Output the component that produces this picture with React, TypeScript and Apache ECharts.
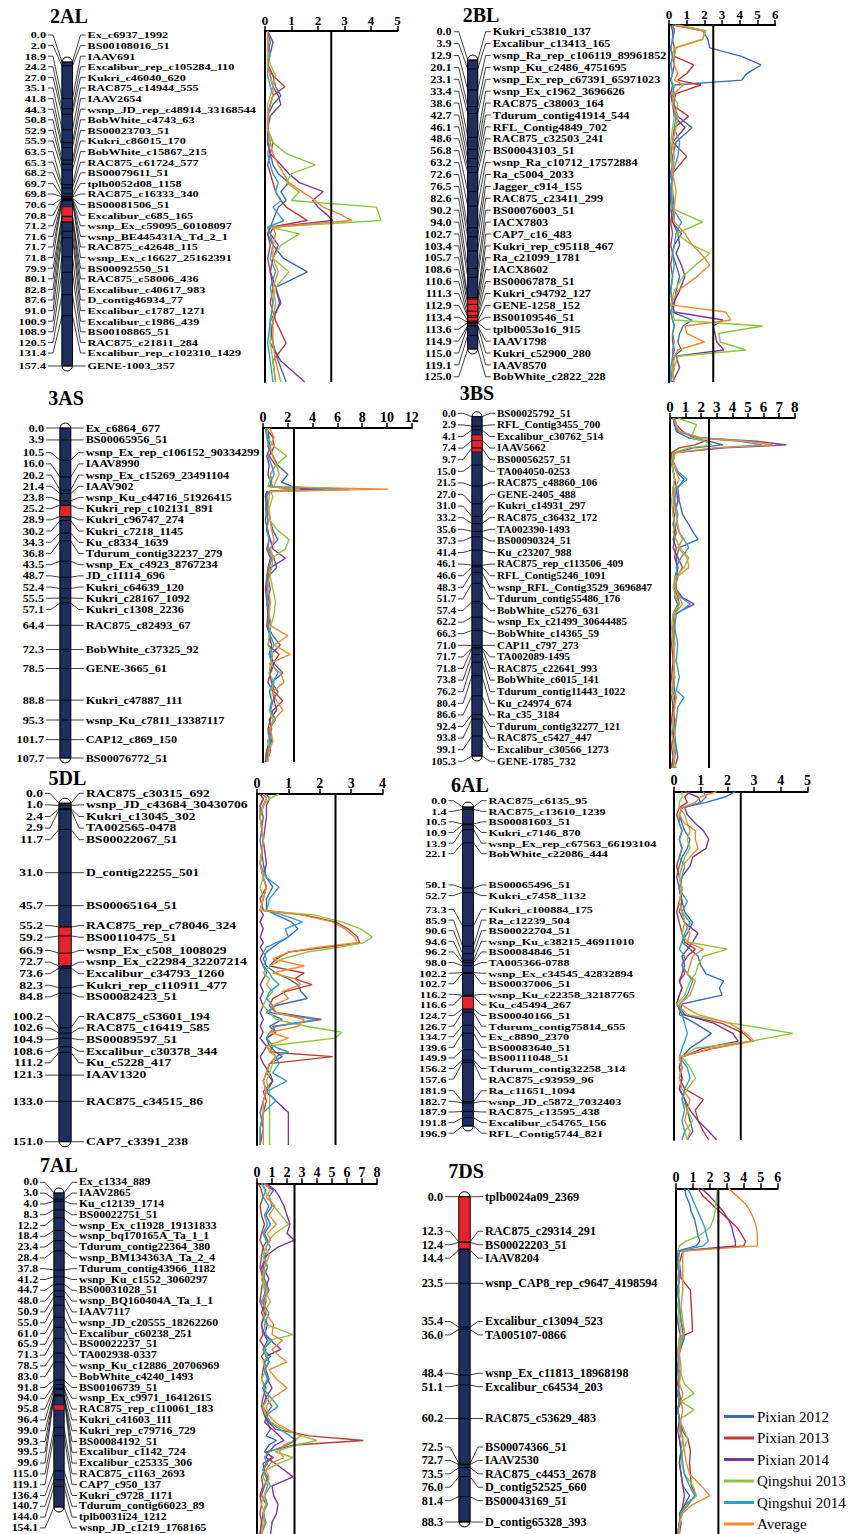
import React, { useEffect, useRef } from "react";
import * as echarts from "echarts";

// ---------- shared ----------
const SERIES_NAMES = ["Pixian 2012", "Pixian 2013", "Pixian 2014", "Qingshui 2013", "Qingshui 2014", "Average"];
const SERIES_COLORS = ["#3b6db4", "#b83b3d", "#7a3a9a", "#8dc63f", "#2f9fc8", "#ef8a2d"];
const LOD_THRESHOLD = 2.5;

// ---------- 2AL ----------
const names2AL = ["Ex_c6937_1992","BS00108016_51","IAAV691","Excalibur_rep_c105284_110","Kukri_c46040_620","RAC875_c14944_555","IAAV2654","wsnp_JD_rep_c48914_33168544","BobWhite_c4743_63","BS00023703_51","Kukri_c86015_170","BobWhite_c15867_215","RAC875_c61724_577","BS00079611_51","tplb0052d08_1158","RAC875_c16333_340","BS00081506_51","Excalibur_c685_165","wsnp_Ex_c59095_60108097","wsnp_BE445431A_Td_2_1","RAC875_c42648_115","wsnp_Ex_c16627_25162391","BS00092550_51","RAC875_c58006_436","Excalibur_c40617_983","D_contig46934_77","Excalibur_c1787_1271","Excalibur_c1986_439","BS00108865_51","RAC875_c21811_284","Excalibur_rep_c102310_1429","GENE-1003_357"];
const cm2AL = [0.0,2.0,18.9,24.2,27.0,35.1,41.8,44.3,50.8,52.9,55.9,63.5,65.3,68.2,69.7,69.8,70.6,70.8,71.2,71.6,71.7,71.8,79.9,80.1,82.8,87.6,91.0,100.9,108.9,120.5,131.4,157.4];
const qtl2AL = [75, 82.7];
const lodTicks2AL = [0, 1, 2, 3, 4, 5];
const lodPos2AL = [0,5,10,15,20,25,29,33,38,44,50,55,60,64,68,72,76,79,82,85,88,91,96,102,108,115,122,130,140,148,157.4];
const lod2AL = [
  [0.1,0.2,0.1,0.1,0.3,0.4,0.6,0.3,0.1,0.1,0.1,0.2,0.3,0.5,0.9,0.6,0.8,0.5,0.4,0.3,0.2,0.1,0.3,0.7,1.6,0.4,0.6,0.2,0.3,0.5,0.8],
  [0.1,0.1,0.2,0.1,0.3,0.75,0.3,0.2,0.1,0.1,0.3,0.2,0.1,0.2,0.3,0.4,0.6,0.8,1.2,1.6,0.2,0.1,0.2,0.1,0.2,0.3,0.2,0.4,0.8,0.3,0.4],
  [0.1,0.3,0.2,0.1,0.2,0.3,0.5,0.6,0.2,0.1,0.1,0.2,0.6,0.9,1.3,2.2,1.8,2.0,2.3,2.55,0.3,0.2,0.5,0.3,0.2,0.4,0.55,0.3,0.2,0.6,1.5],
  [0.1,0.1,0.1,0.2,0.4,0.3,0.2,0.1,0.1,0.1,0.3,0.8,1.9,1.0,0.8,1.3,1.0,4.2,4.3,4.37,0.2,1.3,0.6,0.3,0.9,0.4,0.3,0.2,0.2,0.3,0.4],
  [0.1,0.1,0.2,0.1,0.1,0.2,0.3,0.2,0.1,0.1,0.2,0.1,0.2,0.3,0.5,0.4,0.6,0.3,0.5,0.7,0.1,0.2,0.3,0.2,0.4,0.2,0.3,0.2,0.1,0.2,0.3],
  [0.1,0.1,0.1,0.1,0.2,0.3,0.3,0.2,0.1,0.1,0.2,0.3,0.5,0.7,0.9,1.4,1.9,2.2,2.8,3.28,0.3,0.4,0.3,0.3,0.5,0.3,0.4,0.3,0.3,0.4,0.6],
];

// ---------- 2BL ----------
const names2BL = ["Kukri_c53810_137","Excalibur_c13413_165","wsnp_Ra_rep_c106119_89961852","wsnp_Ku_c2486_4751695","wsnp_Ex_rep_c67391_65971023","wsnp_Ex_c1962_3696626","RAC875_c38003_164","Tdurum_contig41914_544","RFL_Contig4849_702","RAC875_c32503_241","BS00043103_51","wsnp_Ra_c10712_17572884","Ra_c5004_2033","Jagger_c914_155","RAC875_c23411_299","BS00076003_51","IACX7803","CAP7_c16_483","Kukri_rep_c95118_467","Ra_c21099_1781","IACX8602","BS00067878_51","Kukri_c94792_127","GENE-1258_152","BS00109546_51","tplb0053o16_915","IAAV1798","Kukri_c52900_280","IAAV8570","BobWhite_c2822_228"];
const cm2BL = [0.0,3.9,12.9,20.1,23.1,33.4,38.6,42.7,46.1,48.6,56.8,63.2,72.6,76.5,82.6,90.2,94.0,102.7,103.4,105.7,108.6,110.6,111.3,112.9,113.4,113.6,114.9,115.0,119.1,125.0];
const qtl2BL = [103, 113.8];
const lodTicks2BL = [0, 1, 2, 3, 4, 5, 6];
const lodPos2BL = [0,2,5,8,11,14,17,19.3,21,24,28,32,36,41,46,52,58,64,69,73,77,80,84,88,93,98,100.5,103.3,105.4,108,111,113.8,116,120,125];
const lod2BL = [
  [0.2,1.9,2.2,2.3,4.1,5.2,4.4,4.1,0.3,0.2,0.3,0.5,1.3,0.4,0.2,0.1,0.2,0.3,0.2,0.7,0.3,0.2,0.4,0.6,0.4,0.3,0.2,1.3,0.8,0.6,0.5,0.7,0.3,0.2,0.1],
  [0.1,0.2,0.2,0.3,0.3,1.4,1.0,0.5,1.8,0.4,0.2,1.1,0.3,0.2,1.0,0.2,0.1,0.2,0.1,0.2,0.1,0.2,0.1,0.2,0.1,0.2,0.1,0.2,0.3,0.2,0.2,0.3,0.2,0.3,0.1],
  [0.2,0.3,0.2,0.1,0.2,0.3,0.2,0.1,0.2,0.1,0.2,0.3,0.9,0.2,0.1,0.2,0.1,0.1,0.2,0.5,0.6,0.4,0.7,0.9,0.6,0.2,0.3,3.05,2.5,2.6,2.7,3.1,0.4,0.6,0.2],
  [0.5,2.1,1.9,0.3,0.2,0.1,0.2,0.1,0.3,0.2,0.5,0.3,0.2,0.1,0.1,0.2,0.2,0.1,1.9,0.4,1.3,2.3,1.5,0.8,0.3,0.1,0.2,0.3,5.3,2.8,2.9,4.35,0.5,0.3,0.1],
  [0.2,0.3,0.2,0.1,0.2,0.1,0.2,0.1,0.2,0.3,0.2,0.4,0.3,0.6,0.5,0.2,0.1,0.2,0.7,0.4,0.3,0.2,0.3,0.2,0.1,0.2,0.1,0.2,0.3,0.2,0.3,0.2,0.2,0.1,0.1],
  [0.3,2.0,1.9,0.4,0.3,0.3,0.5,0.3,0.8,0.3,0.2,0.5,0.4,0.2,0.3,0.2,0.4,0.3,0.3,0.9,1.3,1.8,2.3,1.6,0.5,0.1,3.2,3.5,0.9,1.0,2.0,0.5,0.3,0.2,0.3],
];

// ---------- 3AS ----------
const names3AS = ["Ex_c6864_677","BS00065956_51","wsnp_Ex_rep_c106152_90334299","IAAV8990","wsnp_Ex_c15269_23491104","IAAV902","wsnp_Ku_c44716_51926415","Kukri_rep_c102131_891","Kukri_c96747_274","Kukri_c7218_1145","Ku_c8334_1639","Tdurum_contig32237_279","wsnp_Ex_c4923_8767234","JD_c11114_696","Kukri_c64639_120","Kukri_c28167_1092","Kukri_c1308_2236","RAC875_c82493_67","BobWhite_c37325_92","GENE-3665_61","Kukri_c47887_111","wsnp_Ku_c7811_13387117","CAP12_c869_150","BS00076772_51"];
const cm3AS = [0.0,3.9,10.5,16.0,20.2,21.4,23.8,25.2,28.9,30.2,34.3,36.8,43.5,48.7,52.4,55.5,57.1,64.4,72.3,78.5,88.8,95.3,101.7,107.7];
const qtl3AS = [25.4, 28.9];
const lodTicks3AS = [0, 2, 4, 6, 8, 10, 12];
const lodPos3AS = [0,3,6,9,12,15,17.5,18.9,19.7,20.5,22,26,30,33,36,39,42,45,48,52,56,60,64,67,70,73,76,79,82,85,88,91,94,97,101,104,107.7];
const lod3AS = [
  [0.3,0.5,0.4,0.8,1.2,2.0,1.5,2.4,5.0,0.5,0.3,0.4,0.6,0.8,1.2,0.5,0.9,1.1,0.4,0.6,0.3,0.5,0.4,0.8,1.4,0.6,0.9,1.6,0.7,1.2,0.8,0.6,1.0,0.5,0.7,0.3,0.2],
  [0.2,0.8,0.9,0.5,1.0,0.6,0.7,0.5,2.5,0.3,0.2,0.3,0.2,0.4,0.5,0.3,0.6,0.4,0.3,0.2,0.3,0.4,0.3,0.6,0.4,1.3,0.8,0.5,0.7,0.9,1.6,0.8,0.6,0.4,0.5,0.3,0.2],
  [0.3,0.4,0.6,0.3,0.5,0.4,0.6,0.8,4.0,0.3,0.2,0.3,0.4,0.3,0.6,0.8,1.8,0.6,0.4,0.3,0.5,0.4,0.6,0.5,0.7,0.5,0.9,0.6,0.4,0.8,0.9,1.1,0.5,0.7,0.4,0.6,0.3],
  [0.4,0.3,0.9,1.9,1.0,0.6,0.5,0.4,3.0,0.6,0.8,0.5,0.6,1.2,2.1,1.8,0.7,0.5,0.6,0.8,1.0,0.9,0.6,0.5,0.4,0.8,0.6,0.5,0.9,0.6,0.7,0.5,0.8,0.6,0.4,0.5,0.3],
  [0.2,0.3,0.5,0.4,0.7,0.9,0.6,0.8,7.0,0.4,0.3,0.2,0.4,0.3,0.5,0.4,0.7,0.5,0.3,0.4,0.3,0.5,0.4,0.6,0.9,0.5,0.7,1.2,0.8,0.5,0.7,0.6,1.0,0.5,0.6,0.4,0.3],
  [0.5,0.9,0.6,0.8,1.1,1.3,1.0,0.9,10.1,0.6,0.5,0.4,0.6,0.7,0.9,0.6,0.8,0.7,0.5,0.4,0.6,0.5,0.7,2.0,0.9,2.2,0.5,1.4,1.7,0.8,1.1,1.6,0.9,0.6,0.8,0.5,0.4],
];

// ---------- 3BS ----------
const names3BS = ["BS00025792_51","RFL_Contig3455_700","Excalibur_c30762_514","IAAV5662","BS00056257_51","TA004050-0253","RAC875_c48860_106","GENE-2405_488","Kukri_c14931_297","RAC875_c36432_172","TA002390-1493","BS00090324_51","Ku_c23207_988","RAC875_rep_c113506_409","RFL_Contig5246_1091","wsnp_RFL_Contig3529_3696847","Tdurum_contig55486_176","BobWhite_c5276_631","wsnp_Ex_c21499_30644485","BobWhite_c14365_59","CAP11_c797_273","TA002089-1495","RAC875_c22641_993","BobWhite_c6015_141","Tdurum_contig11443_1022","Ku_c24974_674","Ra_c35_3184","Tdurum_contig32277_121","RAC875_c5427_447","Excalibur_c30566_1273","GENE-1785_732"];
const cm3BS = [0.0,2.9,4.1,7.4,9.7,15.0,21.5,27.0,31.0,33.2,35.6,37.3,41.4,46.1,46.6,48.3,51.7,57.4,62.2,66.3,71.0,71.7,71.8,73.8,76.2,80.4,86.6,92.4,93.8,99.1,105.3];
const qtl3BS = [5.7, 10.9];
const lodTicks3BS = [0, 1, 2, 3, 4, 5, 6, 7, 8];
const lodPos3BS = [0,2,4,6,7,8.1,9,10.5,13,16,18.5,21,25,29,32,34.5,36.5,39,42,45,48,51,54,56,59,63,68,73,78,82,84,87,91,95,99,102,105.3];
const lod3BS = [
  [0.2,0.3,0.4,1.2,2.5,3.4,1.5,0.3,0.2,0.4,0.9,0.5,0.6,0.8,1.2,1.5,1.8,0.6,0.4,0.5,0.3,0.4,0.3,0.5,0.2,0.3,0.2,0.3,0.2,0.3,0.4,0.2,0.3,0.2,0.3,0.2,0.1],
  [0.3,0.4,0.8,1.5,2.2,1.6,0.6,0.1,0.1,0.2,0.3,0.2,0.3,0.2,0.3,0.4,0.3,0.2,0.5,0.8,0.4,0.3,0.5,0.6,0.3,0.2,0.1,0.2,0.1,0.2,0.1,0.2,0.1,0.2,0.1,0.2,0.1],
  [0.2,0.3,0.5,2.0,5.5,7.47,3.5,0.2,0.1,0.2,0.3,0.4,0.5,0.3,0.2,0.3,0.2,0.4,0.3,0.5,0.4,0.3,0.8,1.55,0.3,0.2,0.3,0.2,0.3,0.2,0.3,0.2,0.3,0.2,0.4,0.5,0.3],
  [0.5,1.7,1.5,1.4,2.2,2.7,1.2,0.2,0.1,0.2,0.3,0.2,0.1,0.2,0.3,0.2,0.4,0.6,1.2,0.9,0.3,0.2,0.4,0.6,0.2,0.1,0.2,0.3,0.2,0.1,0.2,0.3,0.2,0.1,0.3,0.2,0.4],
  [0.2,0.3,0.5,1.8,4.5,5.9,3.0,0.3,0.2,0.5,1.1,0.4,0.3,0.5,0.4,0.6,0.9,1.2,0.7,0.4,0.5,0.3,0.7,1.3,0.4,0.3,0.5,0.4,0.6,0.4,0.9,0.5,0.4,0.3,0.4,0.3,0.2],
  [0.3,0.4,0.6,2.0,5.0,6.6,2.8,0.3,0.2,0.4,0.6,0.3,0.2,0.4,0.5,0.6,0.8,0.5,1.1,1.2,0.4,0.3,0.6,0.8,0.3,0.2,0.3,0.2,0.3,0.2,0.4,0.3,0.2,0.3,0.2,0.3,0.2],
];

// ---------- 5DL ----------
const names5DL = ["RAC875_c30315_692","wsnp_JD_c43684_30430706","Kukri_c13045_302","TA002565-0478","BS00022067_51","D_contig22255_501","BS00065164_51","RAC875_rep_c78046_324","BS00110475_51","wsnp_Ex_c508_1008029","wsnp_Ex_c22984_32207214","Excalibur_c34793_1260","Kukri_rep_c110911_477","BS00082423_51","RAC875_c53601_194","RAC875_c16419_585","BS00089597_51","Excalibur_c30378_344","Ku_c5228_417","IAAV1320","RAC875_c34515_86","CAP7_c3391_238"];
const cm5DL = [0.0,1.0,2.4,2.9,11.7,31.0,45.7,55.2,59.2,66.9,72.7,73.6,82.3,84.8,100.2,102.6,104.9,108.6,111.2,121.3,133.0,151.0];
const qtl5DL = [55.2, 72.4];
const lodTicks5DL = [0, 1, 2, 3, 4];
const lodPos5DL = [0,2,5,10,20,30,36,40,45,50,52,55,58,61.5,64,66,68,71,74,77,79.5,82,85,88,91,94,97,100,102.5,105,108.5,111,113,116,120,123.5,128,132,137,144,151];
const lod5DL = [
  [0.1,0.2,0.1,0.2,0.1,0.2,0.3,0.5,0.3,0.3,0.6,1.1,1.3,1.0,0.7,0.5,0.3,0.2,0.3,0.6,1.0,1.3,1.4,1.6,0.6,0.3,0.8,0.4,0.6,0.3,0.4,0.6,0.8,0.4,0.3,0.2,0.3,0.2,0.1,0.2,0.1],
  [0.1,0.2,0.1,0.1,0.2,0.1,0.2,0.3,0.1,0.2,1.5,2.5,2.9,3.2,3.27,2.2,1.0,0.6,0.4,1.5,1.2,1.75,0.9,0.5,0.4,0.6,2.05,0.5,0.6,0.3,0.5,0.4,2.41,0.4,0.3,0.5,0.2,0.3,0.2,0.1,0.1],
  [0.3,0.4,0.3,0.3,0.2,0.3,0.2,0.3,0.2,0.1,0.2,0.1,0.2,0.1,0.2,0.1,0.2,0.1,0.2,0.3,0.2,0.1,0.2,0.1,0.2,0.1,0.2,0.1,0.2,0.1,0.3,0.2,0.1,0.2,0.4,0.5,0.3,0.6,1.0,1.0,1.0],
  [0.7,0.4,0.2,0.1,0.2,0.1,0.2,0.1,0.2,0.1,1.8,2.7,3.3,3.67,3.4,2.6,1.6,0.8,0.4,0.2,0.4,0.3,0.5,0.3,0.2,0.4,0.6,1.6,2.7,2.5,0.3,0.4,0.6,0.5,0.4,0.3,0.4,0.4,0.4,0.4,0.4],
  [0.2,0.3,0.2,0.1,0.2,0.1,0.3,0.7,0.4,0.3,0.8,1.45,0.9,1.0,0.6,0.3,0.2,0.3,0.2,0.4,0.5,0.7,0.4,0.3,0.5,0.4,1.9,0.6,0.4,0.3,0.5,1.0,0.6,0.7,0.5,0.95,0.3,0.6,0.2,0.1,0.1],
  [0.2,0.3,0.2,0.1,0.2,0.1,0.2,0.3,0.2,0.1,1.4,2.4,2.8,3.1,3.2,1.9,1.0,0.5,1.5,0.5,1.2,1.4,0.8,1.0,0.5,0.6,1.5,1.3,0.4,1.0,0.3,0.5,0.6,0.4,0.3,0.2,0.3,0.2,0.2,0.2,0.2],
];

// ---------- 6AL ----------
const names6AL = ["RAC875_c6135_95","RAC875_c13610_1239","BS00081603_51","Kukri_c7146_870","wsnp_Ex_rep_c67563_66193104","BobWhite_c22086_444","BS00065496_51","Kukri_c7458_1132","Kukri_c100884_175","Ra_c12239_504","BS00022704_51","wsnp_Ku_c38215_46911010","BS00084846_51","TA005366-0788","wsnp_Ex_c34545_42832894","BS00037006_51","wsnp_Ku_c22358_32187765","Ku_c45494_267","BS00040166_51","Tdurum_contig75814_655","Ex_c8890_2370","BS00083640_51","BS00111048_51","Tdurum_contig32258_314","RAC875_c93959_96","Ra_c11651_1094","wsnp_JD_c5872_7032403","RAC875_c13595_438","Excalibur_c54765_156","RFL_Contig5744_821"];
const cm6AL = [0.0,1.4,10.5,10.9,13.9,22.1,50.1,52.7,73.3,85.9,90.6,94.6,96.2,98.0,102.2,102.7,116.2,116.6,124.7,126.7,134.7,139.6,149.9,156.2,157.6,181.9,182.7,187.9,191.8,196.9];
const qtl6AL = [117, 125];
const lodTicks6AL = [0, 1, 2, 3, 4, 5];
const lodPos6AL = [0,3,6,9,13,18,22,27,32,37,42,48,55,62,68,74,80,85,89,93,98,103,107,111,115,120,126,131,136.6,141,145,150,156,162,168,174,180,186,192,196.9];
const lod6AL = [
  [2.3,1.9,1.2,0.3,0.2,0.3,0.4,0.6,0.5,0.3,0.2,0.1,0.2,0.3,0.4,0.7,0.5,0.3,0.6,0.9,1.0,1.2,1.85,1.7,1.8,0.3,0.2,0.8,1.4,1.0,0.6,0.3,0.2,0.3,0.2,0.4,0.5,0.6,0.7,0.5],
  [0.6,0.4,0.5,0.2,0.1,0.2,0.3,0.2,0.3,0.2,0.1,0.2,0.3,0.2,0.1,0.2,0.3,0.4,0.8,0.5,0.3,0.4,0.2,0.3,0.2,0.1,0.3,1.8,2.6,2.9,1.5,0.2,0.3,0.2,0.4,1.1,0.8,0.9,1.1,1.3],
  [0.4,0.9,1.0,0.4,0.5,0.8,1.1,1.3,1.2,0.7,0.6,0.3,0.2,0.3,0.2,0.4,0.9,0.7,0.5,0.3,0.4,0.3,0.2,0.3,0.2,0.1,0.4,1.5,2.2,2.4,1.1,0.3,0.2,0.3,0.2,0.4,0.6,0.9,1.3,1.6],
  [0.3,0.3,0.2,0.2,0.4,0.5,0.6,0.5,0.6,0.4,0.3,0.2,0.3,0.2,0.3,0.4,0.3,0.5,2.0,1.1,0.9,0.8,0.6,0.5,0.4,0.1,0.5,2.2,4.45,2.9,0.8,0.3,0.6,0.8,0.5,0.3,0.5,0.7,0.4,0.5],
  [1.1,1.2,1.0,0.3,0.2,0.2,0.3,0.2,0.3,0.2,0.4,0.3,0.2,0.5,0.3,0.6,0.4,0.3,0.2,0.4,0.3,0.5,0.7,0.6,0.5,0.2,0.3,0.4,0.5,0.4,0.3,0.2,0.5,0.6,0.4,0.3,0.4,0.3,0.4,0.3],
  [1.6,1.0,0.8,0.3,0.2,0.4,0.8,0.8,0.9,0.6,0.3,0.2,0.3,0.2,0.3,0.4,0.6,0.5,1.1,0.7,0.6,0.5,0.8,0.7,0.6,0.2,0.9,2.1,2.7,3.0,1.4,0.2,0.3,0.2,0.3,0.6,0.5,0.4,0.6,0.5],
];

// ---------- 7AL ----------
const names7AL = ["Ex_c1334_889","IAAV2865","Ku_c12139_1714","BS00022751_51","wsnp_Ex_c11928_19131833","wsnp_bq170165A_Ta_1_1","Tdurum_contig22364_380","wsnp_BM134363A_Ta_2_4","Tdurum_contig43966_1182","wsnp_Ku_c1552_3060297","BS00031028_51","wsnp_BQ160404A_Ta_1_1","IAAV7117","wsnp_JD_c20555_18262260","Excalibur_c60238_251","BS00022237_51","TA002938-0337","wsnp_Ku_c12886_20706969","BobWhite_c4240_1493","BS00106739_51","wsnp_Ex_c9971_16412615","RAC875_rep_c110061_183","Kukri_c41603_111","Kukri_rep_c79716_729","BS00084192_51","Excalibur_c1142_724","Excalibur_c25335_306","RAC875_c1163_2693","CAP7_c950_137","Kukri_c9728_1171","Tdurum_contig66023_89","tplb0031i24_1212","wsnp_JD_c1219_1768165"];
const cm7AL = [0.0,3.0,4.0,8.3,12.2,18.4,23.4,28.4,37.8,41.2,44.7,48.0,50.9,55.0,61.0,65.9,71.3,78.5,83.0,91.8,94.0,95.8,96.4,99.0,99.3,99.5,99.6,115.0,119.1,136.4,140.7,144.0,154.1];
const qtl7AL = [104, 106.6];
const lodTicks7AL = [0, 1, 2, 3, 4, 5, 6, 7, 8];
const lodPos7AL = [0,3,6,10,14,18,22,25,28,32,37,42,47,52,57,62,66.5,69,73,76,78.5,82,86,90,94,98,102,105,108,111,113,115,118,120.5,123,126,129,133,137,141,145,149,154.1];
const lod7AL = [
  [0.4,1.1,0.8,1.0,0.6,0.9,0.5,0.7,0.4,0.6,0.3,0.5,0.8,0.4,0.6,0.3,0.5,0.7,0.4,0.9,0.5,0.6,0.8,0.4,0.6,1.0,0.5,0.7,0.9,0.6,1.3,0.8,0.5,1.1,0.6,0.4,0.7,0.5,0.3,0.6,0.4,0.3,0.2],
  [0.1,0.3,0.4,0.2,0.3,0.5,0.3,0.2,0.4,0.3,0.2,0.4,0.3,0.2,0.5,0.3,0.4,0.2,0.6,0.3,0.5,0.4,0.3,0.6,0.4,0.3,0.5,0.8,1.2,3.5,7.1,2.5,0.6,1.0,0.4,0.5,0.3,0.4,0.2,0.3,0.2,0.3,0.2],
  [0.6,1.2,1.5,1.8,2.0,2.2,2.0,2.5,1.4,0.6,0.4,0.8,0.5,0.6,0.3,0.7,0.5,0.9,1.6,0.6,0.8,0.5,0.7,1.0,0.6,0.4,0.7,0.5,1.0,1.5,1.8,1.2,0.8,0.6,1.2,1.8,2.4,1.0,1.1,1.4,1.3,1.0,0.9],
  [0.3,0.5,0.8,1.1,1.6,2.1,1.2,0.8,0.6,0.4,0.7,0.3,0.5,0.9,0.4,0.6,2.4,0.8,0.5,0.7,0.4,0.6,0.3,0.5,0.8,0.4,0.6,0.9,1.8,3.0,4.0,2.6,1.2,2.4,1.5,0.6,0.4,0.7,0.5,0.3,0.5,0.4,0.3],
  [0.3,0.6,0.4,0.8,0.5,0.7,0.4,0.6,0.9,0.5,0.7,0.4,0.6,0.3,0.8,0.5,0.6,1.0,0.4,0.6,0.8,0.5,0.7,0.4,0.9,1.4,0.6,0.9,1.5,2.2,2.6,2.0,0.8,0.5,0.7,0.4,0.6,0.9,0.5,0.7,0.4,0.6,0.3],
  [0.5,0.9,0.6,1.2,0.8,1.3,0.7,0.9,0.6,0.8,0.5,0.4,0.7,0.5,0.6,1.1,1.0,1.7,1.0,1.5,2.0,0.8,1.3,2.0,1.1,0.6,0.8,1.2,2.0,2.9,2.5,1.8,1.5,1.8,0.9,0.6,0.8,0.7,0.5,0.6,0.4,0.5,0.3],
];

// ---------- 7DS ----------
const names7DS = ["tplb0024a09_2369","RAC875_c29314_291","BS00022203_51","IAAV8204","wsnp_CAP8_rep_c9647_4198594","Excalibur_c13094_523","TA005107-0866","wsnp_Ex_c11813_18968198","Excalibur_c64534_203","RAC875_c53629_483","BS00074366_51","IAAV2530","RAC875_c4453_2678","D_contig52525_660","BS00043169_51","D_contig65328_393"];
const cm7DS = [0.0,12.3,12.4,14.4,23.5,35.4,36.0,48.4,51.1,60.2,72.5,72.7,73.5,76.0,81.4,88.3];
const qtl7DS = [0, 14.1];
const lodTicks7DS = [0, 1, 2, 3, 4, 5, 6];
const lodPos7DS = [0,2,4,6,8,10,12,13.5,14.7,16,19,23,26,30,34,36.6,38,42,46,50,52.4,54.5,56.6,59,62,64,67,70,73,76,78.5,81,83,85.5,88.3];
const lod7DS = [
  [0.5,0.6,0.8,0.9,1.1,1.2,1.3,1.4,1.2,0.1,0.1,0.2,0.1,0.2,0.3,0.4,0.5,0.2,0.1,0.2,0.1,0.2,0.1,0.2,0.3,0.2,0.3,0.2,0.3,0.4,0.8,0.5,0.2,0.3,0.2],
  [1.3,1.6,2.1,2.6,3.1,3.6,3.9,4.1,4.0,0.4,0.2,0.3,0.85,0.9,0.95,0.97,0.2,0.1,0.2,0.1,0.2,0.3,0.1,0.2,0.4,0.7,0.85,0.8,0.85,0.9,1.2,0.5,0.3,0.2,0.1],
  [1.5,2.0,2.4,2.8,3.1,3.3,3.4,3.5,3.5,0.2,0.1,0.2,0.1,0.2,0.1,0.2,0.3,0.2,0.1,0.2,0.1,0.2,0.1,0.2,0.1,0.2,0.3,0.2,0.3,0.4,0.5,0.4,0.3,0.2,0.1],
  [2.45,2.4,2.35,2.3,2.2,2.0,1.4,0.6,0.2,0.1,0.2,0.1,0.2,0.1,0.2,0.3,0.2,0.1,0.2,0.5,1.07,0.3,1.07,0.2,0.5,0.7,0.4,0.3,0.5,1.0,1.2,0.6,0.3,0.2,0.1],
  [0.7,0.9,1.1,1.3,1.5,1.7,1.8,1.9,1.6,0.2,0.1,0.2,0.1,0.2,0.3,0.5,0.4,0.2,0.1,0.2,0.1,0.2,0.1,0.2,0.3,0.4,0.3,0.4,0.5,0.8,1.1,0.7,0.3,0.2,0.1],
  [3.1,3.6,4.1,4.4,4.6,4.75,4.8,4.8,4.8,0.4,0.4,0.4,0.4,0.3,0.4,0.5,0.3,0.2,0.3,0.2,0.4,0.3,0.4,0.3,0.2,0.4,0.5,0.6,0.8,1.5,2.0,0.9,0.4,0.2,0.2],
];

// ---------- panel assembly (data) ----------
const PANELS = [
  { key: "2AL", names: names2AL, cm: cm2AL, qtl: qtl2AL, ticks: lodTicks2AL, lodPos: lodPos2AL, lod: lod2AL },
  { key: "2BL", names: names2BL, cm: cm2BL, qtl: qtl2BL, ticks: lodTicks2BL, lodPos: lodPos2BL, lod: lod2BL },
  { key: "3AS", names: names3AS, cm: cm3AS, qtl: qtl3AS, ticks: lodTicks3AS, lodPos: lodPos3AS, lod: lod3AS },
  { key: "3BS", names: names3BS, cm: cm3BS, qtl: qtl3BS, ticks: lodTicks3BS, lodPos: lodPos3BS, lod: lod3BS },
  { key: "5DL", names: names5DL, cm: cm5DL, qtl: qtl5DL, ticks: lodTicks5DL, lodPos: lodPos5DL, lod: lod5DL },
  { key: "6AL", names: names6AL, cm: cm6AL, qtl: qtl6AL, ticks: lodTicks6AL, lodPos: lodPos6AL, lod: lod6AL },
  { key: "7AL", names: names7AL, cm: cm7AL, qtl: qtl7AL, ticks: lodTicks7AL, lodPos: lodPos7AL, lod: lod7AL },
  { key: "7DS", names: names7DS, cm: cm7DS, qtl: qtl7DS, ticks: lodTicks7DS, lodPos: lodPos7DS, lod: lod7DS },
];

// ---------- layout (pixels / styles only) ----------
// title [cx, cy]; bar [left, width, top, bottom]; lab [minY, maxY, spacing]; plot [left, top, width, height]
// textW: width-equivalent font size of marker labels; tickFs: LOD axis label size
const LAYOUT: any = {
  "2AL": { title: [69, 16], bar: [62, 10.5, 62, 366], lab: [35, 368, 10.6], plot: [265, 31, 132.5, 351], textW: 12.2, tickFs: 13 },
  "2BL": { title: [481, 15], bar: [467.7, 10, 60, 349], lab: [31.7, 376.7, 11.9], plot: [669, 25, 106.2, 357], textW: 12.2, tickFs: 13 },
  "3AS": { title: [66, 398], bar: [60, 10.7, 428, 758], lab: [427, 761, 11.2], plot: [263, 428, 148.8, 334], textW: 12.2, tickFs: 14 },
  "3BS": { title: [477, 393], bar: [472, 10, 416.7, 756], lab: [413.3, 761.7, 11.6], plot: [670, 418, 124.8, 350], textW: 11.0, tickFs: 15 },
  "5DL": { title: [67.5, 778], bar: [59, 12, 803.2, 1141.7], lab: [793.3, 1142, 11.6], plot: [257, 794, 125.6, 351], textW: 13.6, tickFs: 14 },
  "6AL": { title: [470, 785], bar: [462.5, 11, 807, 1126], lab: [800.7, 1135, 10.6], plot: [674, 791.7, 133.5, 348.3], textW: 12.2, tickFs: 14 },
  "7AL": { title: [59, 1165], bar: [54, 10, 1193, 1507], lab: [1182.3, 1527.7, 10.8], plot: [257, 1183.3, 120, 350.7], textW: 11.7, tickFs: 14 },
  "7DS": { title: [466, 1171], bar: [459, 11, 1196.7, 1522], lab: [1196, 1524, 13.4], plot: [676, 1188.3, 101.7, 345.7], textW: 12.2, tickFs: 14 },
};

const SERIF = '"Liberation Serif", "Times New Roman", Times, serif';
const NAVY = "#1f2d5f";
const RED = "#e8232b";

function layoutLabels(d: number[], s: number, lo: number, hi: number): number[] {
  type C = { a: number; b: number; top: number };
  const place = (c: C) => {
    const n = c.b - c.a + 1;
    let sum = 0;
    for (let k = 0; k < n; k++) sum += d[c.a + k] - k * s;
    let t = sum / n;
    t = Math.min(hi - (n - 1) * s, t);
    t = Math.max(lo, t);
    c.top = t;
  };
  const cs: C[] = d.map((_, i) => ({ a: i, b: i, top: 0 }));
  cs.forEach(place);
  let merged = true;
  while (merged) {
    merged = false;
    for (let i = 0; i < cs.length - 1; i++) {
      const c = cs[i];
      const nx = cs[i + 1];
      const n = c.b - c.a + 1;
      if (c.top + n * s > nx.top + 0.01) {
        const m: C = { a: c.a, b: nx.b, top: 0 };
        place(m);
        cs.splice(i, 2, m);
        merged = true;
        break;
      }
    }
  }
  const out: number[] = new Array(d.length);
  cs.forEach((c) => {
    for (let k = c.a; k <= c.b; k++) out[k] = c.top + (k - c.a) * s;
  });
  return out;
}

function textStyle(text: string, align: string, size: number, weight: string) {
  return {
    text,
    fill: "#000",
    fontSize: size,
    fontWeight: weight,
    fontFamily: SERIF,
    align,
    verticalAlign: "middle",
    textAlign: align,
    textVerticalAlign: "middle",
  };
}

function chromSeries(p: any, gi: number) {
  const L = LAYOUT[p.key];
  const maxCm = p.cm[p.cm.length - 1];
  const spacing = L.lab[2];
  const fs = Math.min(12, (spacing - 0.3) / 1.12);
  const sx = L.textW / fs;
  return {
    type: "custom",
    name: p.key + " map",
    xAxisIndex: gi,
    yAxisIndex: gi,
    clip: false,
    silent: true,
    z: 3,
    data: [[0, 0]],
    renderItem: (_params: any, api: any) => {
      const topPt = api.coord([0, 0]);
      const botPt = api.coord([0, maxCm]);
      const left = topPt[0];
      const right = api.coord([1, 0])[0];
      const w = right - left;
      const y0 = topPt[1];
      const y1 = botPt[1];
      const desired = p.cm.map((c: number) => api.coord([0, c])[1]);
      const ly = layoutLabels(desired, spacing, L.lab[0], L.lab[1]);
      const children: any[] = [];
      children.push({
        type: "rect",
        shape: { x: left, y: y0 - 5, width: w, height: y1 - y0 + 10, r: w / 2 },
        style: { fill: "#fff", stroke: "#000", lineWidth: 1 },
      });
      children.push({
        type: "rect",
        shape: { x: left, y: y0, width: w, height: y1 - y0 },
        style: { fill: NAVY, stroke: "#000", lineWidth: 0.8 },
      });
      const r0 = api.coord([0, p.qtl[0]])[1];
      const r1 = api.coord([0, p.qtl[1]])[1];
      children.push({
        type: "rect",
        shape: { x: left, y: r0, width: w, height: r1 - r0 },
        style: { fill: RED, stroke: "#000", lineWidth: 0.5 },
      });
      desired.forEach((dy: number, i: number) => {
        const y = ly[i];
        children.push({
          type: "line",
          shape: { x1: left, y1: dy, x2: right, y2: dy },
          style: { stroke: "#000", lineWidth: 0.9 },
        });
        children.push({
          type: "polyline",
          shape: { points: [[left - 14, y], [left - 9, y], [left, dy]] },
          style: { stroke: "#111", lineWidth: 0.8, fill: "none" },
        });
        children.push({
          type: "polyline",
          shape: { points: [[right, dy], [right + 8, y], [right + 13, y]] },
          style: { stroke: "#111", lineWidth: 0.8, fill: "none" },
        });
        children.push({
          type: "text",
          x: left - 16,
          y,
          scaleX: sx,
          style: textStyle(p.cm[i].toFixed(1), "right", fs, "bold"),
        });
        children.push({
          type: "text",
          x: right + 15,
          y,
          scaleX: sx,
          style: textStyle(p.names[i], "left", fs, "bold"),
        });
      });
      return { type: "group", children };
    },
  };
}

function buildOption() {
  const grid: any[] = [];
  const xAxis: any[] = [];
  const yAxis: any[] = [];
  const series: any[] = [];
  const graphic: any[] = [];

  PANELS.forEach((p, i) => {
    const L = LAYOUT[p.key];
    const maxCm = p.cm[p.cm.length - 1];
    const lodMax = p.ticks[p.ticks.length - 1];
    const step = p.ticks[1] - p.ticks[0];
    grid.push({ left: L.plot[0], top: L.plot[1], width: L.plot[2], height: L.plot[3] });
    xAxis.push({
      gridIndex: i,
      type: "value",
      position: "top",
      min: p.ticks[0],
      max: lodMax,
      interval: step,
      axisLine: { show: true, onZero: false, lineStyle: { color: "#000", width: 2 } },
      axisTick: { show: true, length: 5, lineStyle: { color: "#000", width: 1.5 } },
      axisLabel: { color: "#000", fontSize: L.tickFs, fontWeight: "bold", fontFamily: SERIF, margin: 4 },
      splitLine: { show: false },
    });
    yAxis.push({
      gridIndex: i,
      type: "value",
      inverse: true,
      min: 0,
      max: maxCm,
      axisLine: { show: true, onZero: false, lineStyle: { color: "#000", width: 2 } },
      axisTick: { show: false },
      axisLabel: { show: false },
      splitLine: { show: false },
    });
    p.lod.forEach((vals: number[], k: number) => {
      series.push({
        type: "line",
        name: SERIES_NAMES[k],
        xAxisIndex: i,
        yAxisIndex: i,
        data: p.lodPos.map((c: number, j: number) => [vals[j], c]),
        symbol: "none",
        showSymbol: false,
        color: SERIES_COLORS[k],
        lineStyle: { width: 1.4, color: SERIES_COLORS[k] },
        z: 2,
        silent: true,
      });
    });
    series.push({
      type: "line",
      name: "LOD threshold",
      xAxisIndex: i,
      yAxisIndex: i,
      data: [[LOD_THRESHOLD, 0], [LOD_THRESHOLD, maxCm]],
      symbol: "none",
      color: "#000",
      lineStyle: { width: 2, color: "#000" },
      z: 3,
      silent: true,
    });
    graphic.push({
      type: "text",
      x: L.title[0],
      y: L.title[1],
      style: textStyle(p.key, "center", 20, "bold"),
    });
  });

  PANELS.forEach((p, i) => {
    const L = LAYOUT[p.key];
    const maxCm = p.cm[p.cm.length - 1];
    const gi = PANELS.length + i;
    grid.push({ left: L.bar[0], top: L.bar[2], width: L.bar[1], height: L.bar[3] - L.bar[2] });
    xAxis.push({ gridIndex: gi, type: "value", min: 0, max: 1, show: false });
    yAxis.push({ gridIndex: gi, type: "value", min: 0, max: maxCm, inverse: true, show: false });
    series.push(chromSeries(p, gi));
  });

  return {
    animation: false,
    backgroundColor: "#fff",
    grid,
    xAxis,
    yAxis,
    series,
    graphic,
    legend: {
      data: SERIES_NAMES,
      orient: "vertical",
      left: 724,
      top: 1409,
      icon: "rect",
      itemWidth: 30,
      itemHeight: 3,
      itemGap: 6.5,
      padding: 0,
      selectedMode: false,
      textStyle: { fontFamily: SERIF, fontSize: 15, color: "#000", padding: [0, 0, 0, -2] },
    },
  };
}

export default function App() {
  const ref = useRef<HTMLDivElement>(null);
  useEffect(() => {
    if (!ref.current) return;
    const chart = echarts.init(ref.current, undefined, { renderer: "svg" });
    chart.setOption(buildOption() as any);
    return () => {
      chart.dispose();
    };
  }, []);
  return (
    <div
      ref={ref}
      style={{ position: "absolute", left: 0, top: 0, width: 852, height: 1534, background: "#fff" }}
    />
  );
}
